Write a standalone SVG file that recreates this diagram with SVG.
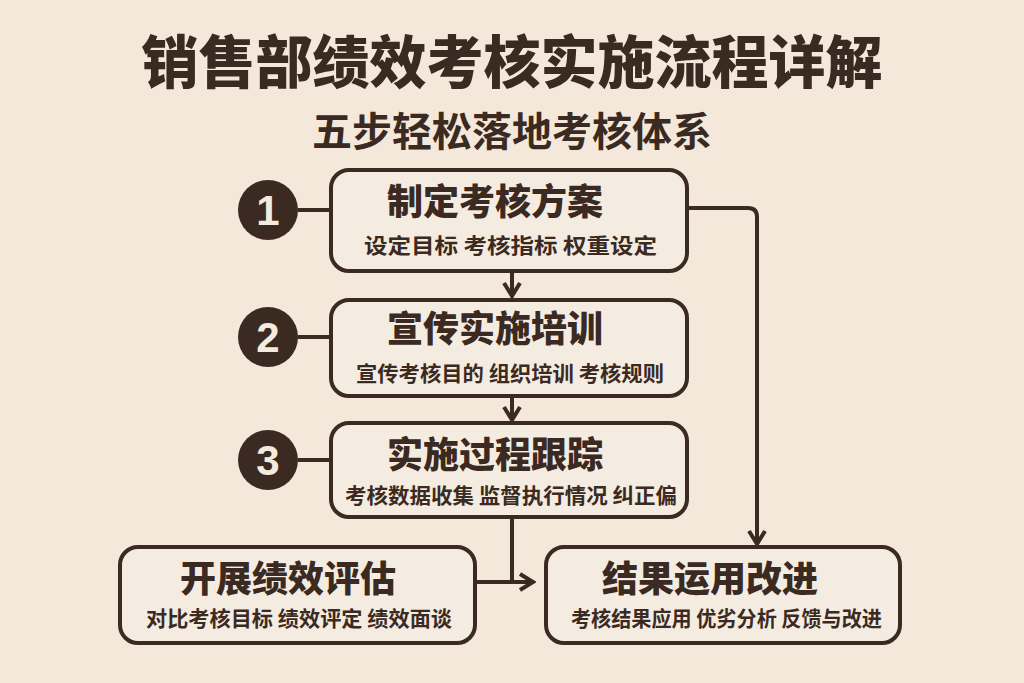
<svg xmlns="http://www.w3.org/2000/svg" width="1024" height="683" viewBox="0 0 1024 683">
<style>
.box{fill:#f5ece1;stroke:#3b2a22;stroke-width:4}
.ln{fill:none;stroke:#3b2a22;stroke-width:4;stroke-linejoin:round}
.cj{font-family:"Noto Sans CJK SC","Noto Sans CJK JP",sans-serif;fill:#3b2a22}
.t{font-size:36px;font-weight:900}
.s{font-size:21px;font-weight:700}
.num{font-family:"Liberation Sans","DejaVu Sans",sans-serif;font-size:42px;font-weight:700;fill:#f4ebdf;text-anchor:middle}
.c{fill:#3b2a22}
</style>
<defs>
<marker id="ah" viewBox="0 0 20 20" refX="17" refY="10" markerWidth="20" markerHeight="20" markerUnits="userSpaceOnUse" orient="auto">
<path d="M4,2 L17,10 L4,18" fill="none" stroke="#3b2a22" stroke-width="4" stroke-linejoin="miter"/>
</marker>
</defs>
<rect width="1024" height="683" fill="#f3e8da"/>
<g id="title">
<text class="cj" x="512" y="83" font-size="57" font-weight="900" text-anchor="middle">销售部绩效考核实施流程详解</text>
<text class="cj" x="512" y="146" font-size="40" font-weight="700" text-anchor="middle">五步轻松落地考核体系</text>
</g>
<g id="connectors">
<line class="ln" x1="298" y1="210" x2="331" y2="210"/>
<line class="ln" x1="298" y1="337" x2="331" y2="337"/>
<line class="ln" x1="298" y1="460" x2="331" y2="460"/>
<line class="ln" x1="512" y1="271" x2="512" y2="296" marker-end="url(#ah)"/>
<line class="ln" x1="512" y1="396" x2="512" y2="420" marker-end="url(#ah)"/>
<path class="ln" d="M512,517 L512,582"/>
<line class="ln" x1="475" y1="582" x2="533" y2="582" marker-end="url(#ah)"/>
<path class="ln" d="M687,208 L748,208 Q757,208 757,217 L757,544" marker-end="url(#ah)"/>
</g>
<g id="step1">
<circle class="c" cx="268" cy="210" r="30"/>
<text class="num" x="268" y="225">1</text>
<rect class="box" x="331" y="170" width="356" height="101" rx="18"/>
<text class="cj t" x="495" y="215" text-anchor="middle">制定考核方案</text>
<text class="cj s" x="364" y="253" textLength="293" lengthAdjust="spacingAndGlyphs">设定目标  考核指标 权重设定</text>
</g>
<g id="step2">
<circle class="c" cx="268" cy="337" r="30"/>
<text class="num" x="268" y="352">2</text>
<rect class="box" x="331" y="300" width="356" height="96" rx="18"/>
<text class="cj t" x="495" y="342" text-anchor="middle">宣传实施培训</text>
<text class="cj s" x="356" y="381" textLength="308" lengthAdjust="spacingAndGlyphs">宣传考核目的 组织培训 考核规则</text>
</g>
<g id="step3">
<circle class="c" cx="268" cy="460" r="30"/>
<text class="num" x="268" y="475">3</text>
<rect class="box" x="331" y="423" width="356" height="94" rx="18"/>
<text class="cj t" x="495" y="468" text-anchor="middle">实施过程跟踪</text>
<text class="cj s" x="345" y="503" textLength="332" lengthAdjust="spacingAndGlyphs">考核数据收集 监督执行情况 纠正偏</text>
</g>
<g id="step4">
<rect class="box" x="120" y="547" width="355" height="96" rx="18"/>
<text class="cj t" x="288" y="592" text-anchor="middle">开展绩效评估</text>
<text class="cj s" x="146" y="626" textLength="306" lengthAdjust="spacingAndGlyphs">对比考核目标 绩效评定 绩效面谈</text>
</g>
<g id="step5">
<rect class="box" x="546" y="547" width="354" height="96" rx="18"/>
<text class="cj t" x="710" y="592" text-anchor="middle">结果运用改进</text>
<text class="cj s" x="571" y="626" textLength="311" lengthAdjust="spacingAndGlyphs">考核结果应用 优劣分析 反馈与改进</text>
</g>
</svg>
